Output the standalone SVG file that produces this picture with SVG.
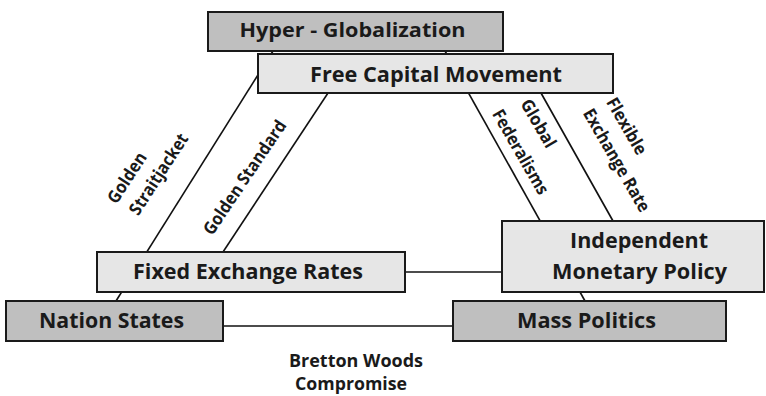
<svg xmlns="http://www.w3.org/2000/svg" width="766" height="396" viewBox="0 0 766 396">
  <style>
    .box { stroke: #1a1a1a; stroke-width: 2; }
    .dark { fill: #bfbfbf; }
    .light { fill: #e6e6e6; }
    .link { stroke: #111; stroke-width: 1.6; fill: none; }
    text { font-family: "Open Sans", "Liberation Sans", sans-serif; font-weight: bold; fill: #1a1a1a; text-anchor: middle; }
    .node-label { font-size: 20.5px; }
    .edge-label { font-size: 17.5px; }
  </style>

  <!-- connectors sit behind the boxes -->
  <g id="connectors">
    <line class="link" x1="273" y1="51" x2="116" y2="301"/>
    <line class="link" x1="328" y1="93" x2="223" y2="252"/>
    <line class="link" x1="445" y1="51" x2="585" y2="301"/>
    <line class="link" x1="541" y1="93" x2="613" y2="221"/>
    <line class="link" x1="405" y1="272" x2="502" y2="272"/>
    <line class="link" x1="223" y1="326" x2="453" y2="326"/>
  </g>

  <g id="edge-labels">
    <text class="edge-label" transform="translate(132 181) rotate(-57)" textLength="57" lengthAdjust="spacingAndGlyphs">Golden</text>
    <text class="edge-label" transform="translate(163.7 177.4) rotate(-57)" textLength="93" lengthAdjust="spacingAndGlyphs">Straitjacket</text>
    <text class="edge-label" transform="translate(249.6 180.8) rotate(-56)" textLength="134" lengthAdjust="spacingAndGlyphs">Golden Standard</text>
    <text class="edge-label" transform="translate(533.2 126.5) rotate(60)" textLength="53" lengthAdjust="spacingAndGlyphs">Global</text>
    <text class="edge-label" transform="translate(515.4 155) rotate(60)" textLength="95" lengthAdjust="spacingAndGlyphs">Federalisms</text>
    <text class="edge-label" transform="translate(621.5 129.2) rotate(60)" textLength="63" lengthAdjust="spacingAndGlyphs">Flexible</text>
    <text class="edge-label" transform="translate(611.5 163.3) rotate(60)" textLength="116" lengthAdjust="spacingAndGlyphs">Exchange Rate</text>
    <text class="edge-label" x="356" y="367" textLength="134" lengthAdjust="spacingAndGlyphs">Bretton Woods</text>
    <text class="edge-label" x="351" y="390" textLength="112" lengthAdjust="spacingAndGlyphs">Compromise</text>
  </g>

  <g id="hyper-globalization">
    <rect class="box dark" x="208" y="12" width="295" height="39"/>
    <text class="node-label" x="352.5" y="37" style="font-size:19.5px" textLength="226" lengthAdjust="spacingAndGlyphs">Hyper - Globalization</text>
  </g>

  <g id="free-capital-movement">
    <rect class="box light" x="258" y="54" width="355" height="39"/>
    <text class="node-label" x="436" y="82" style="font-size:21.5px" textLength="252" lengthAdjust="spacingAndGlyphs">Free Capital Movement</text>
  </g>

  <g id="fixed-exchange-rates">
    <rect class="box light" x="97" y="252" width="308" height="40"/>
    <text class="node-label" x="248" y="279" textLength="230" lengthAdjust="spacingAndGlyphs">Fixed Exchange Rates</text>
  </g>

  <g id="independent-monetary-policy">
    <rect class="box light" x="502" y="221" width="262" height="71"/>
    <text class="node-label" x="639" y="248" style="font-size:21.5px" textLength="138" lengthAdjust="spacingAndGlyphs">Independent</text>
    <text class="node-label" x="639.5" y="279" style="font-size:21.5px" textLength="175" lengthAdjust="spacingAndGlyphs">Monetary Policy</text>
  </g>

  <g id="nation-states">
    <rect class="box dark" x="6" y="301" width="217" height="40"/>
    <text class="node-label" x="111.5" y="328" textLength="145" lengthAdjust="spacingAndGlyphs">Nation States</text>
  </g>

  <g id="mass-politics">
    <rect class="box dark" x="453" y="301" width="273" height="40"/>
    <text class="node-label" x="586.5" y="328" textLength="139" lengthAdjust="spacingAndGlyphs">Mass Politics</text>
  </g>
</svg>
